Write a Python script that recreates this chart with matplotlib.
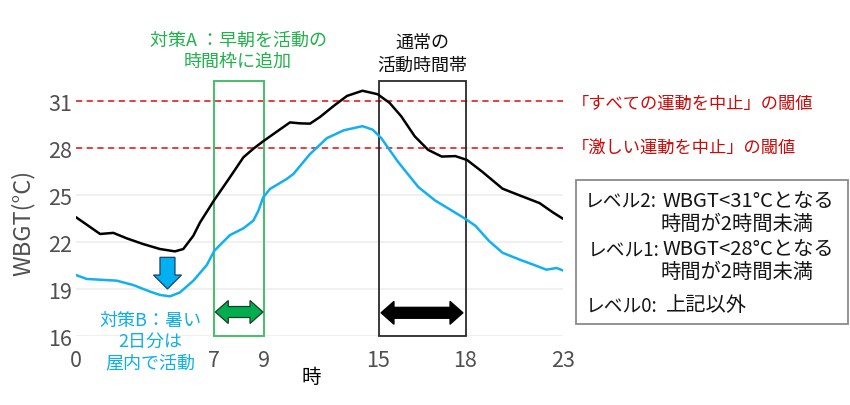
import numpy as np
import matplotlib
matplotlib.use('Agg')
import matplotlib.pyplot as plt
from matplotlib.patches import Rectangle, Polygon

plt.rcParams['font.family'] = ['Noto Sans CJK JP', 'DejaVu Sans']

# ---------------- data ----------------
hours_normal = [0, 1.22, 1.89, 2.57, 3.39, 4.25, 5.01, 5.43, 5.94, 6.28,
                7.0, 7.63, 8.17, 8.57, 8.97, 9.67, 10.36, 10.89, 11.41, 11.94,
                12.65, 13.35, 14.16, 14.95, 15.38, 15.78, 16.25, 16.71, 17.18, 17.65,
                18.08, 18.86, 19.90, 20.76, 21.80, 22.49, 23]
wbgt_normal = [23.6, 22.53, 22.6, 22.25, 21.89, 21.57, 21.42, 21.57, 22.42, 23.27,
               24.7, 26.15, 27.42, 27.97, 28.45, 29.06, 29.65, 29.59, 29.57, 30.0,
               30.7, 31.34, 31.67, 31.45, 30.9, 30.05, 28.76, 27.9, 27.47, 27.5,
               27.25, 26.5, 25.42, 25.0, 24.5, 23.9, 23.5]

hours_cool = [0, 0.54, 1.38, 2.06, 2.90, 3.75, 4.25, 4.76, 5.26, 5.94,
              6.62, 7.0, 7.63, 8.17, 8.57, 8.77, 8.97, 9.31, 10.19, 10.54,
              11.41, 12.30, 13.19, 14.16, 14.69, 15.09, 15.67, 16.37, 16.95, 17.53,
              18.00, 18.51, 19.21, 19.90, 20.76, 21.63, 22.15, 22.67, 23]
wbgt_cool = [19.91, 19.66, 19.6, 19.55, 19.27, 18.85, 18.64, 18.55, 18.8, 19.55,
             20.55, 21.46, 22.46, 22.89, 23.38, 24.0, 24.87, 25.4, 26.04, 26.36,
             27.63, 28.65, 29.15, 29.41, 29.19, 28.66, 27.14, 25.53, 24.67, 24.02,
             23.49, 23.05, 22.08, 21.33, 20.9, 20.5, 20.25, 20.36, 20.2]

x_ticks = [0, 7, 9, 15, 18, 23]
y_ticks = [16, 19, 22, 25, 28, 31]
thresholds = [31, 28]
threshold_labels = ['「すべての運動を中止」の閾値', '「激しい運動を中止」の閾値']
window_a = (7, 9)
window_normal = (15, 18)
arrow_b_hour = 4.63

legend_rows = [
    ('レベル2:', 'WBGT<31°Cとなる', '時間が2時間未満'),
    ('レベル1:', 'WBGT<28°Cとなる', '時間が2時間未満'),
    ('レベル0:', '上記以外', None),
]

# ---------------- layout ----------------
W, H = 850, 406
fig = plt.figure(figsize=(W / 100, H / 100), dpi=100)
fig.patch.set_facecolor('white')

def fx(px):
    return px / W

def fy(py):
    return 1 - py / H

ax_l, ax_r, ax_b, ax_t = 76, 563, 337.3, 82
ax = fig.add_axes([fx(ax_l), fy(ax_b), (ax_r - ax_l) / W, (ax_b - ax_t) / H])

# hand-spaced hour axis of the original (piecewise linear)
anch_h = [-10, 0, 7, 9, 15, 18, 23, 33]
anch_p = [-197.6, 0, 138.3, 188, 302.5, 389.5, 487, 682]

def fwd(x):
    return np.interp(x, anch_h, anch_p)

def inv(p):
    return np.interp(p, anch_p, anch_h)

ax.set_xscale('function', functions=(fwd, inv))
ax.set_xlim(0, 23)
ymax = 16 + (ax_b - ax_t) / 15.67
ax.set_ylim(16, ymax)

for s in ax.spines.values():
    s.set_visible(False)
ax.set_yticks(y_ticks)
ax.set_xticks(x_ticks)
ax.set_xticklabels([str(t) for t in x_ticks])
ax.tick_params(length=0, labelsize=15.5, labelcolor='#505050')
ax.tick_params(axis='y', pad=3)
ax.tick_params(axis='x', pad=9)
for lab in ax.get_xticklabels():
    if lab.get_text() == '0':
        lab.set_x(0)
ax.grid(axis='y', color='#ececec', lw=1.1)
ax.set_axisbelow(True)

for t in thresholds:
    ax.axhline(t, color='#e01010', lw=1.1, ls=(0, (4, 3)), zorder=2)

# boxes
ax.add_patch(Rectangle((window_a[0], 16), window_a[1] - window_a[0], ymax - 16,
                       fill=False, ec='#44c068', lw=1.4, zorder=3, clip_on=False))
ax.add_patch(Rectangle((window_normal[0], 16), window_normal[1] - window_normal[0], ymax - 16,
                       fill=False, ec='#2a2a2a', lw=1.3, zorder=3, clip_on=False))

# lines
ax.plot(hours_normal, wbgt_normal, color='black', lw=1.8, zorder=4,
        solid_capstyle='round', solid_joinstyle='round')
ax.plot(hours_cool, wbgt_cool, color='#12b0ef', lw=1.8, zorder=4,
        solid_capstyle='round', solid_joinstyle='round')

# block arrows built in pixel units around data anchors
fig.canvas.draw()
to_disp = ax.transData.transform
to_axes = ax.transAxes.inverted().transform

def poly_px(verts, fc, ec):
    pts = to_axes(np.array(verts))
    ax.add_patch(Polygon(pts, closed=True, fc=fc, ec=ec, lw=0.9,
                         transform=ax.transAxes, clip_on=False, zorder=5))

def double_arrow(x0h, x1h, yv, fc, ec, inset=1.0, hl=13, hh=11.5, sh=5.5):
    x0, yc = to_disp((x0h, yv))
    x1, _ = to_disp((x1h, yv))
    x0 += inset
    x1 -= inset
    v = [(x0, yc), (x0 + hl, yc + hh), (x0 + hl, yc + sh), (x1 - hl, yc + sh),
         (x1 - hl, yc + hh), (x1, yc), (x1 - hl, yc - hh), (x1 - hl, yc - sh),
         (x0 + hl, yc - sh), (x0 + hl, yc - hh)]
    poly_px(v, fc, ec)

double_arrow(window_a[0], window_a[1], 17.55, '#00ad4f', '#1d3d26')
double_arrow(window_normal[0], window_normal[1], 17.5, 'black', 'black', inset=2.5)

# blue down arrow
xc, ytop = to_disp((arrow_b_hour, 21.04))
_, ytip = to_disp((arrow_b_hour, 19.02))
_, yhead = to_disp((arrow_b_hour, 19.91))
sw, hw = 7.5, 14
v = [(xc - sw, ytop), (xc + sw, ytop), (xc + sw, yhead), (xc + hw, yhead),
     (xc, ytip), (xc - hw, yhead), (xc - sw, yhead)]
poly_px(v, '#00b0f0', '#1f3f66')

# ---------------- texts ----------------
green = '#22b14c'
red = '#cc0a0a'
blue = '#10aee8'
fs_t = 13

fig.text(fx(238), fy(41), '対策A ：早朝を活動の', color=green, fontsize=fs_t, ha='center', va='center')
fig.text(fx(238), fy(62), '時間枠に追加', color=green, fontsize=fs_t, ha='center', va='center')
fig.text(fx(422.5), fy(43), '通常の', color='#111111', fontsize=fs_t, ha='center', va='center')
fig.text(fx(422.5), fy(66), '活動時間帯', color='#111111', fontsize=fs_t, ha='center', va='center')

for lab, py in zip(threshold_labels, [104, 149]):
    fig.text(fx(572), fy(py), lab, color=red, fontsize=12.4, ha='left', va='center')

for s, py in zip(['対策B：暑い', '2日分は', '屋内で活動'], [321, 342, 363.5]):
    fig.text(fx(150), fy(py), s, color=blue, fontsize=13, ha='center', va='center')

fig.text(fx(22.5), fy(223), 'WBGT(°C)', color='#505050', fontsize=17, rotation=90,
         ha='center', va='center')
fig.text(fx(311), fy(378), '時', color='black', fontsize=14, ha='center', va='center')

# legend box
fig.patches.append(Rectangle((fx(576), fy(325)), (848 - 576) / W, (325 - 181) / H,
                             fill=False, ec='#8a8a8a', lw=1.3, transform=fig.transFigure))
fs_lab = 13.5
fs_l = 14.6
row_y = [(201.5, 224), (250, 272.5), (306, None)]
lab_x = [585, 588, 586]
for (lab, l1, l2), (y1, y2), lx in zip(legend_rows, row_y, lab_x):
    fig.text(fx(lx), fy(y1), lab, color='#151515', fontsize=fs_lab, ha='left', va='center')
    fig.text(fx(662 if l2 else 666), fy(y1), l1, color='#151515', fontsize=fs_l, ha='left', va='center')
    if l2:
        fig.text(fx(660), fy(y2), l2, color='#151515', fontsize=fs_l, ha='left', va='center')

fig.savefig('out.png', dpi=100)
